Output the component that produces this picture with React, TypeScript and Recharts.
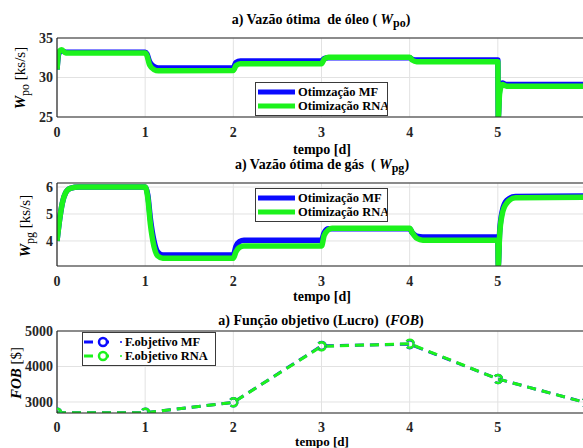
import React from "react";
import { LineChart, Line, XAxis, YAxis, CartesianGrid, ReferenceLine } from "recharts";

// tempo [d] -> vazão de óleo [ks/s]
const oilMF: [number, number][] = [
  [0, 31.0], [0.02, 33.0], [0.05, 33.4], [0.1, 33.2], [1.0, 33.2], [1.02, 33.0], [1.05, 32.0],
  [1.1, 31.4], [1.15, 31.2], [2.0, 31.25], [2.03, 31.9], [2.08, 32.1], [3.0, 32.1], [3.03, 32.4],
  [3.08, 32.5], [4.0, 32.5], [4.03, 32.3], [4.08, 32.2], [5.0, 32.2], [5.005, 25.0], [5.02, 28.5],
  [5.05, 29.3], [5.1, 29.1], [6.0, 29.1],
];
const oilRNA: [number, number][] = [
  [0, 31.0], [0.02, 33.2], [0.05, 33.5], [0.1, 33.1], [1.0, 33.1], [1.02, 32.8], [1.05, 31.6],
  [1.1, 31.0], [1.15, 30.85], [2.0, 30.9], [2.03, 31.5], [2.08, 31.75], [3.0, 31.75], [3.03, 32.3],
  [3.08, 32.55], [4.0, 32.55], [4.03, 32.2], [4.08, 32.0], [5.0, 32.0], [5.005, 24.9], [5.02, 28.0],
  [5.05, 29.1], [5.1, 28.9], [6.0, 28.9],
];

// tempo [d] -> vazão de gás [ks/s]
const gasMF: [number, number][] = [
  [0, 4.0], [0.03, 4.8], [0.06, 5.4], [0.1, 5.8], [0.15, 5.95], [0.25, 6.0], [1.0, 6.0], [1.03, 5.7],
  [1.06, 4.8], [1.1, 4.0], [1.14, 3.6], [1.2, 3.48], [2.0, 3.48], [2.03, 3.8], [2.07, 3.98],
  [2.12, 4.03], [3.0, 4.03], [3.03, 4.3], [3.08, 4.45], [4.0, 4.45], [4.03, 4.3], [4.08, 4.18],
  [4.15, 4.15], [5.0, 4.15], [5.005, 3.1], [5.02, 4.3], [5.05, 5.1], [5.1, 5.5], [5.2, 5.65], [6.0, 5.67],
];
const gasRNA: [number, number][] = [
  [0, 4.0], [0.03, 4.8], [0.06, 5.4], [0.1, 5.8], [0.15, 5.95], [0.25, 6.0], [1.0, 6.0], [1.03, 5.6],
  [1.06, 4.6], [1.1, 3.8], [1.14, 3.45], [1.2, 3.36], [2.0, 3.36], [2.03, 3.6], [2.07, 3.76],
  [2.12, 3.81], [3.0, 3.81], [3.03, 4.2], [3.08, 4.42], [3.12, 4.47], [4.0, 4.47], [4.03, 4.3],
  [4.08, 4.1], [4.15, 4.03], [5.0, 4.03], [5.005, 3.08], [5.02, 4.2], [5.05, 5.0], [5.1, 5.4],
  [5.2, 5.6], [6.0, 5.62],
];

// função objetivo [$] por dia
const days = [0, 1, 2, 3, 4, 5, 6];
const fobMF = [2700, 2700, 2990, 4580, 4630, 3650, 2980];
const fobRNA = [2700, 2700, 2990, 4570, 4640, 3650, 2980];

const xTicks = [0, 1, 2, 3, 4, 5];
const oilTicks = [25, 30, 35];
const gasTicks = [4, 5, 6];
const fobTicks = [3000, 4000, 5000];

const FONT = "'Liberation Serif', 'DejaVu Serif', serif";
const AXIS = "#262626";
const GRID = "#e2e2e2";
const BLUE = "#0a0aff";
const GREEN = "#1cf21c";

const toPts = (arr: [number, number][]) => arr.map(([t, v]) => ({ t, v }));
const fobData = days.map((t, i) => ({ t, mf: fobMF[i], rna: fobRNA[i] }));

const tickStyle = { fill: AXIS, fontSize: 14, fontWeight: 700, fontFamily: FONT, style: { fontFamily: FONT } };

const abs = (left: number, top: number): React.CSSProperties => ({
  position: "absolute",
  left,
  top,
  transform: "translate(-50%, -50%)",
  whiteSpace: "nowrap",
  fontFamily: FONT,
  color: "#000",
  lineHeight: 1,
});

const rot = (left: number, top: number): React.CSSProperties => ({
  ...abs(left, top),
  transform: "translate(-50%, -50%) rotate(-90deg)",
  fontSize: 15,
});

function Title({ x, y, children }: { x: number; y: number; children: React.ReactNode }) {
  return <div style={{ ...abs(x, y), fontSize: 14, fontWeight: 700 }}>{children}</div>;
}

function LegendBox({ left, top, width, rows }: { left: number; top: number; width: number; rows: { color: string; label: string; marker?: boolean }[] }) {
  return (
    <div
      style={{
        position: "absolute",
        left,
        top,
        width,
        background: "#fff",
        border: "1px solid #3a3a3a",
        padding: "2px 0",
        fontFamily: FONT,
        fontSize: 12.5,
        fontWeight: 700,
        whiteSpace: "nowrap",
        overflow: "hidden",
        zIndex: 2,
      }}
    >
      {rows.map((r) => (
        <div key={r.label} style={{ display: "flex", alignItems: "center", height: 14 }}>
          {r.marker ? (
            <svg width={40} height={14} style={{ flexShrink: 0 }}>
              <line x1={1} y1={7} x2={10} y2={7} stroke={r.color} strokeWidth={3} />
              <circle cx={20} cy={7} r={4} fill="none" stroke={r.color} strokeWidth={2.5} />
              <line x1={23} y1={7} x2={26} y2={7} stroke={r.color} strokeWidth={3} />
              <circle cx={38} cy={7} r={1} fill={r.color} />
            </svg>
          ) : (
            <svg width={40} height={14} style={{ flexShrink: 0 }}>
              <line x1={2} y1={7} x2={39} y2={7} stroke={r.color} strokeWidth={5} />
            </svg>
          )}
          <span style={{ marginLeft: 2 }}>{r.label}</span>
        </div>
      ))}
    </div>
  );
}

function SeriesPanel({
  top,
  height,
  marginTop,
  xHeight,
  domain,
  ticks,
  mf,
  rna,
}: {
  top: number;
  height: number;
  marginTop: number;
  xHeight: number;
  domain: [number, number];
  ticks: number[];
  mf: [number, number][];
  rna: [number, number][];
}) {
  return (
    <div style={{ position: "absolute", left: 0, top }}>
      <LineChart width={590} height={height} margin={{ top: marginTop, right: 4, bottom: 0, left: 0 }}>
        <CartesianGrid stroke={GRID} strokeWidth={1} />
        <XAxis
          type="number"
          dataKey="t"
          domain={[0, 6]}
          ticks={xTicks}
          allowDataOverflow
          height={xHeight}
          tickLine={false}
          tickSize={6}
          tickMargin={4}
          axisLine={{ stroke: AXIS, strokeWidth: 1.2 }}
          tick={tickStyle}
        />
        <YAxis
          type="number"
          domain={domain}
          ticks={ticks}
          allowDataOverflow
          width={57}
          tickLine={false}
          tickSize={4}
          tickMargin={0}
          axisLine={{ stroke: AXIS, strokeWidth: 1.2 }}
          tick={tickStyle}
        />
        <ReferenceLine y={domain[1]} stroke={AXIS} strokeWidth={1.2} />
        <Line data={toPts(mf)} dataKey="v" type="monotoneX" stroke={BLUE} strokeWidth={5.5} dot={false} isAnimationActive={false} />
        <Line data={toPts(rna)} dataKey="v" type="monotoneX" stroke={GREEN} strokeWidth={5.5} dot={false} isAnimationActive={false} />
      </LineChart>
    </div>
  );
}

export default function App() {
  return (
    <div style={{ position: "absolute", left: 0, top: 0, width: 583, height: 448, overflow: "hidden", background: "#fff", fontFamily: FONT }}>
      <Title x={321} y={21}>
        a) Vazão ótima&nbsp; de óleo ( <i>W</i>
        <sub style={{ fontSize: 12 }}>po</sub>)
      </Title>
      <SeriesPanel top={0} height={150} marginTop={38} xHeight={33} domain={[25, 35]} ticks={oilTicks} mf={oilMF} rna={oilRNA} />
      <div style={{ ...rot(22, 78) }}>
        <b><i>W</i></b>
        <sub style={{ fontSize: 12 }}>po</sub> [ks/s]
      </div>
      <LegendBox
        left={255}
        top={82}
        width={131}
        rows={[
          { color: BLUE, label: "Otimzação MF" },
          { color: GREEN, label: "Otimização RNA" },
        ]}
      />
      <div style={{ ...abs(322, 150), fontSize: 14, fontWeight: 700 }}>tempo [d]</div>

      <Title x={322} y={166}>
        a) Vazão ótima de gás&nbsp; ( <i>W</i>
        <sub style={{ fontSize: 12 }}>pg</sub>)
      </Title>
      <SeriesPanel top={150} height={150} marginTop={33} xHeight={34} domain={[3.07, 6.15]} ticks={gasTicks} mf={gasMF} rna={gasRNA} />
      <div style={{ ...rot(27, 226) }}>
        <b><i>W</i></b>
        <sub style={{ fontSize: 12 }}>pg</sub> [ks/s]
      </div>
      <LegendBox
        left={255}
        top={188}
        width={131}
        rows={[
          { color: BLUE, label: "Otimização MF" },
          { color: GREEN, label: "Otimização RNA" },
        ]}
      />
      <div style={{ ...abs(322, 297), fontSize: 14, fontWeight: 700 }}>tempo [d]</div>

      <Title x={321} y={321}>
        a) Função objetivo (Lucro)&nbsp; (<i>FOB</i>)
      </Title>
      <div style={{ position: "absolute", left: 0, top: 300 }}>
        <LineChart width={590} height={148} data={fobData} margin={{ top: 31, right: 4, bottom: 0, left: 0 }}>
          <CartesianGrid stroke={GRID} strokeWidth={1} />
          <XAxis
            type="number"
            dataKey="t"
            domain={[0, 6]}
            ticks={xTicks}
            allowDataOverflow
            height={35}
            tickLine={false}
            tickSize={6}
            tickMargin={3}
            axisLine={{ stroke: AXIS, strokeWidth: 1.2 }}
            tick={tickStyle}
          />
          <YAxis
            type="number"
            domain={[2690, 5000]}
            ticks={fobTicks}
            allowDataOverflow
            width={57}
            tickLine={false}
            tickSize={4}
            tickMargin={0}
            axisLine={{ stroke: AXIS, strokeWidth: 1.2 }}
            tick={tickStyle}
          />
          <ReferenceLine y={5000} stroke={AXIS} strokeWidth={1.2} />
          <Line
            dataKey="mf"
            type="linear"
            stroke={BLUE}
            strokeWidth={3}
            strokeDasharray="9 6"
            dot={{ r: 4, strokeWidth: 2.5, fill: "none", stroke: BLUE }}
            isAnimationActive={false}
          />
          <Line
            dataKey="rna"
            type="linear"
            stroke={GREEN}
            strokeWidth={3}
            strokeDasharray="9 6"
            dot={{ r: 4, strokeWidth: 2.5, fill: "none", stroke: GREEN }}
            isAnimationActive={false}
          />
        </LineChart>
      </div>
      <div style={{ ...rot(16, 373) }}>
        <b><i>FOB</i></b> [$]
      </div>
      <LegendBox
        left={82}
        top={332}
        width={132}
        rows={[
          { color: BLUE, label: "F.objetivo MF", marker: true },
          { color: GREEN, label: "F.objetivo RNA", marker: true },
        ]}
      />
      <div style={{ ...abs(322, 441), fontSize: 13, fontWeight: 700 }}>tempo [d]</div>
    </div>
  );
}
